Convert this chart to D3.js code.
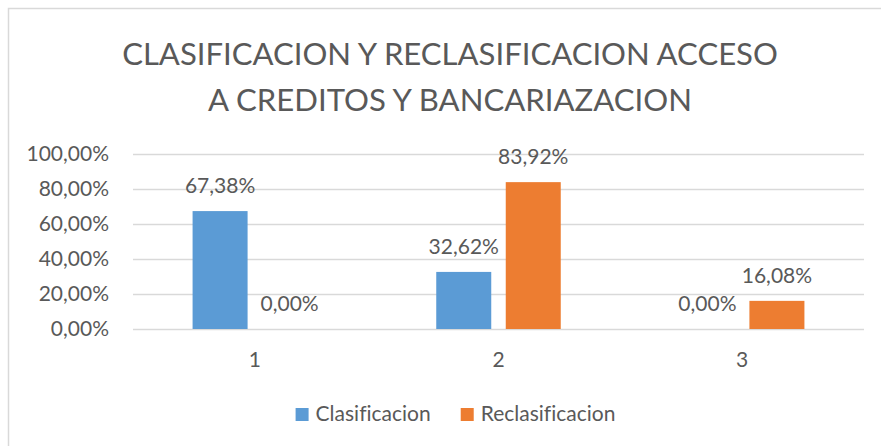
<!DOCTYPE html>
<html>
<head>
<meta charset="utf-8">
<script src="https://cdn.jsdelivr.net/npm/d3@7"></script>
<style>
  html, body { margin: 0; padding: 0; background: #fff; }
  svg { display: block; }
  text { font-family: Lato, "Open Sans", sans-serif; fill: #595959; font-variant-ligatures: none; }
</style>
</head>
<body>
<svg id="chart" width="881" height="446"></svg>
<script>
// Chart data
const categories = ["1", "2", "3"];
const seriesNames = ["Clasificacion", "Reclasificacion"];
const clasificacion = [0.6738, 0.3262, 0.0];
const reclasificacion = [0.0, 0.8392, 0.1608];
const yTicks = [0, 0.2, 0.4, 0.6, 0.8, 1.0];
const titleLines = ["CLASIFICACION Y RECLASIFICACION ACCESO", "A CREDITOS Y BANCARIAZACION"];
const colors = ["#5B9BD5", "#ED7D31"];

const es = d3.formatLocale({ decimal: ",", thousands: ".", grouping: [3], currency: ["", " €"] });
const pct = es.format(".2%");

const svg = d3.select("#chart");
const W = 881, H = 446;
const labelSize = "21px";

// Chart area frame (runs past the right and bottom edges)
svg.append("rect")
  .attr("x", 8.5).attr("y", 8.5)
  .attr("width", W + 20).attr("height", H + 20)
  .attr("fill", "none").attr("stroke", "#d9d9d9").attr("stroke-width", 1.5);

const plot = { left: 133, right: 864, top: 154, bottom: 329 };

const x0 = d3.scaleBand().domain(categories).range([plot.left, plot.right]).padding(0);
const groupWidth = 124.5;
const x1 = d3.scaleBand().domain(seriesNames).range([-groupWidth / 2, groupWidth / 2])
  .paddingInner(0.2086).paddingOuter(0);
const y = d3.scaleLinear().domain([0, 1]).range([plot.bottom, plot.top]);

// Title
const title = svg.append("g").attr("class", "title");
titleLines.forEach((line, i) => {
  const t = title.append("text")
    .attr("x", 450).attr("y", i === 0 ? 65 : 111)
    .attr("text-anchor", "middle")
    .style("font-size", "30px")
    .text(line);
  // Fit each title line to its set width
  const target = i === 0 ? 656 : 484;
  const w = t.node().getComputedTextLength();
  t.style("font-size", (30 * target / w).toFixed(2) + "px");
});

// Y axis with gridlines
const yAxis = svg.append("g")
  .attr("transform", `translate(${plot.left},0)`)
  .call(d3.axisLeft(y).tickValues(yTicks).tickFormat(pct)
    .tickSize(-(plot.right - plot.left)).tickPadding(24));
yAxis.select(".domain").remove();
yAxis.selectAll(".tick line").attr("stroke", "#d9d9d9").attr("stroke-width", 1.5);
yAxis.selectAll(".tick text").style("font-size", labelSize).attr("fill", "#595959")
  .style("font-family", "Lato, sans-serif");

// X axis labels
const xAxis = svg.append("g")
  .attr("transform", `translate(0,${plot.bottom})`)
  .call(d3.axisBottom(x0).tickSize(0).tickPadding(23));
xAxis.select(".domain").remove();
xAxis.selectAll(".tick text").style("font-size", labelSize).attr("fill", "#595959")
  .style("font-family", "Lato, sans-serif");

// Bars
const rows = categories.map((c, i) => ({
  cat: c,
  values: [
    { series: seriesNames[0], value: clasificacion[i], color: colors[0] },
    { series: seriesNames[1], value: reclasificacion[i], color: colors[1] }
  ]
}));

const groups = svg.append("g").selectAll("g")
  .data(rows).join("g")
  .attr("transform", d => `translate(${x0(d.cat) + x0.bandwidth() / 2},0)`);

groups.selectAll("rect")
  .data(d => d.values).join("rect")
  .attr("x", d => x1(d.series))
  .attr("width", x1.bandwidth())
  .attr("y", d => y(d.value))
  .attr("height", d => y(0) - y(d.value))
  .attr("fill", d => d.color);

// Value labels
groups.selectAll("text.val")
  .data(d => d.values).join("text")
  .attr("class", "val")
  .attr("x", d => x1(d.series) + x1.bandwidth() / 2)
  .attr("y", d => y(d.value) - 18)
  .attr("text-anchor", "middle")
  .style("font-size", labelSize)
  .text(d => pct(d.value));

// Legend, centred under the plot
const legend = svg.append("g").attr("class", "legend");
const items = legend.selectAll("g").data(seriesNames).join("g");
items.append("rect")
  .attr("width", 13).attr("height", 13)
  .attr("y", 408)
  .attr("fill", (d, i) => colors[i]);
items.append("text")
  .attr("x", 20).attr("y", 421)
  .style("font-size", labelSize)
  .text(d => d);
let cursor = 0;
const offsets = [];
items.each(function () {
  offsets.push(cursor);
  const tw = d3.select(this).select("text").node().getComputedTextLength();
  cursor += 20 + tw + 30;
});
const total = cursor - 30;
const start = 455.5 - total / 2;
items.attr("transform", (d, i) => `translate(${start + offsets[i]},0)`);
</script>
</body>
</html>
